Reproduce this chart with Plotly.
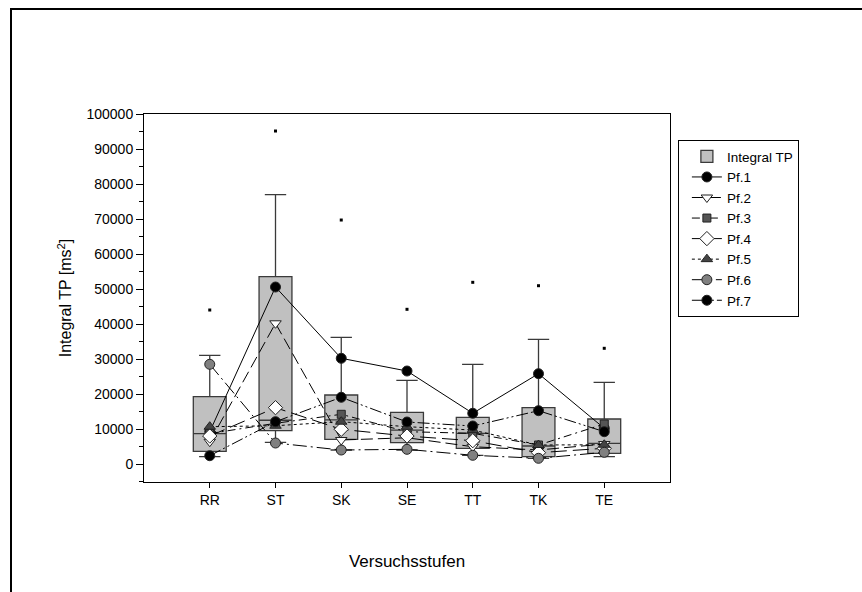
import plotly.graph_objects as go

categories = ["RR", "ST", "SK", "SE", "TT", "TK", "TE"]

# Box statistics (Integral TP)
box_q1 = [3630, 9510, 7060, 6090, 4490, 2090, 3060]
box_median = [8660, 12500, 12600, 9700, 8770, 5140, 5910]
box_q3 = [19230, 53510, 19710, 14770, 13340, 16090, 12860]
box_low = [2090, 6200, 4000, 4000, 2490, 1630, 2090]
box_high = [31060, 76940, 36200, 23910, 28490, 35630, 23340]
outliers = [44000, 95140, 69710, 44200, 51910, 50940, 33060]

# Individual subjects
pf1 = [9230, 50570, 30200, 26570, 14490, 25800, 10200]
pf2 = [6370, 40200, 6860, 7500, 4940, 4000, 5710]
pf3 = [8700, 11630, 14200, 9230, 8770, 5430, 11430]
pf4 = [8000, 16090, 9910, 8000, 6660, 3230, 4490]
pf5 = [10660, 10940, 12090, 10660, 9700, 5430, 5500]
pf6 = [28490, 6000, 4000, 4200, 2490, 1630, 3340]
pf7 = [2370, 12090, 19060, 12000, 10860, 15230, 9230]

series = [
    ("Pf.1", pf1, "solid", "circle", "black", 10),
    ("Pf.2", pf2, "12px,5px", "triangle-down", "white", 10),
    ("Pf.3", pf3, "8px,4px,2px,4px", "square", "#555555", 8),
    ("Pf.4", pf4, "16px,6px", "diamond", "white", 11),
    ("Pf.5", pf5, "dot", "triangle-up", "#444444", 10),
    ("Pf.6", pf6, "14px,4px,2px,4px", "circle", "#808080", 10),
    ("Pf.7", pf7, "12px,3px,2px,3px,2px,3px", "circle", "black", 10),
]

font = "Liberation Sans, Arial, sans-serif"

fig = go.Figure()

fig.add_trace(go.Box(
    name="Integral TP",
    x=categories,
    q1=box_q1, median=box_median, q3=box_q3,
    lowerfence=box_low, upperfence=box_high,
    fillcolor="#c0c0c0",
    line=dict(color="#3a3a3a", width=1.3),
    whiskerwidth=0.65,
    width=0.5,
    boxpoints=False,
    showlegend=True,
))

fig.add_trace(go.Scatter(
    x=categories, y=outliers, mode="markers",
    marker=dict(symbol="square", size=3, color="black"),
    showlegend=False, hoverinfo="skip",
))

for name, vals, dash, sym, col, sz in series:
    fig.add_trace(go.Scatter(
        name=name, x=categories, y=vals, mode="lines+markers",
        line=dict(color="black", width=1, dash=dash),
        marker=dict(symbol=sym, size=sz, color=col,
                    line=dict(color="#222222", width=1)),
    ))

x_left = (11 - 144) / 526
x_right = (866 - 144) / 526
y_top = (482 - 9) / 368
y_bot = (482 - 600) / 368

fig.update_layout(
    width=862, height=592,
    margin=dict(l=144, r=192, t=114, b=110),
    paper_bgcolor="white", plot_bgcolor="white",
    font=dict(family=font, size=14, color="black"),
    legend=dict(
        x=1.015, y=0.929, xanchor="left", yanchor="top",
        bgcolor="white", bordercolor="black", borderwidth=1,
        font=dict(family=font, size=13.5, color="black"),
        tracegroupgap=0, itemwidth=30, indentation=8,
    ),
    xaxis=dict(
        type="category", range=[-1, 7],
        showline=True, linecolor="black", linewidth=1, mirror=True,
        ticks="outside", ticklen=5, tickcolor="black",
        showgrid=False, zeroline=False,
        tickfont=dict(family=font, size=14),
        title=dict(text="Versuchsstufen", standoff=48,
                   font=dict(family=font, size=17)),
    ),
    yaxis=dict(
        range=[-5140, 100000],
        showline=True, linecolor="black", linewidth=1, mirror=True,
        ticks="outside", ticklen=7, tickcolor="black",
        tickvals=[0, 10000, 20000, 30000, 40000, 50000, 60000, 70000, 80000, 90000, 100000],
        ticktext=["0", "10000", "20000", "30000", "40000", "50000", "60000", "70000", "80000", "90000", "100000"],
        minor=dict(dtick=5000, tick0=0, ticks="outside", ticklen=4, tickcolor="black", showgrid=False),
        showgrid=False, zeroline=False,
        tickfont=dict(family=font, size=14),
        title=dict(text="Integral TP [ms<sup>2</sup>]", standoff=10,
                   font=dict(family=font, size=16)),
    ),
    shapes=[
        dict(type="path", xref="paper", yref="paper",
             path=f"M {x_left},{y_bot} L {x_left},{y_top} L {x_right},{y_top}",
             line=dict(color="black", width=2)),
    ],
)

fig.write_html("out.html")
